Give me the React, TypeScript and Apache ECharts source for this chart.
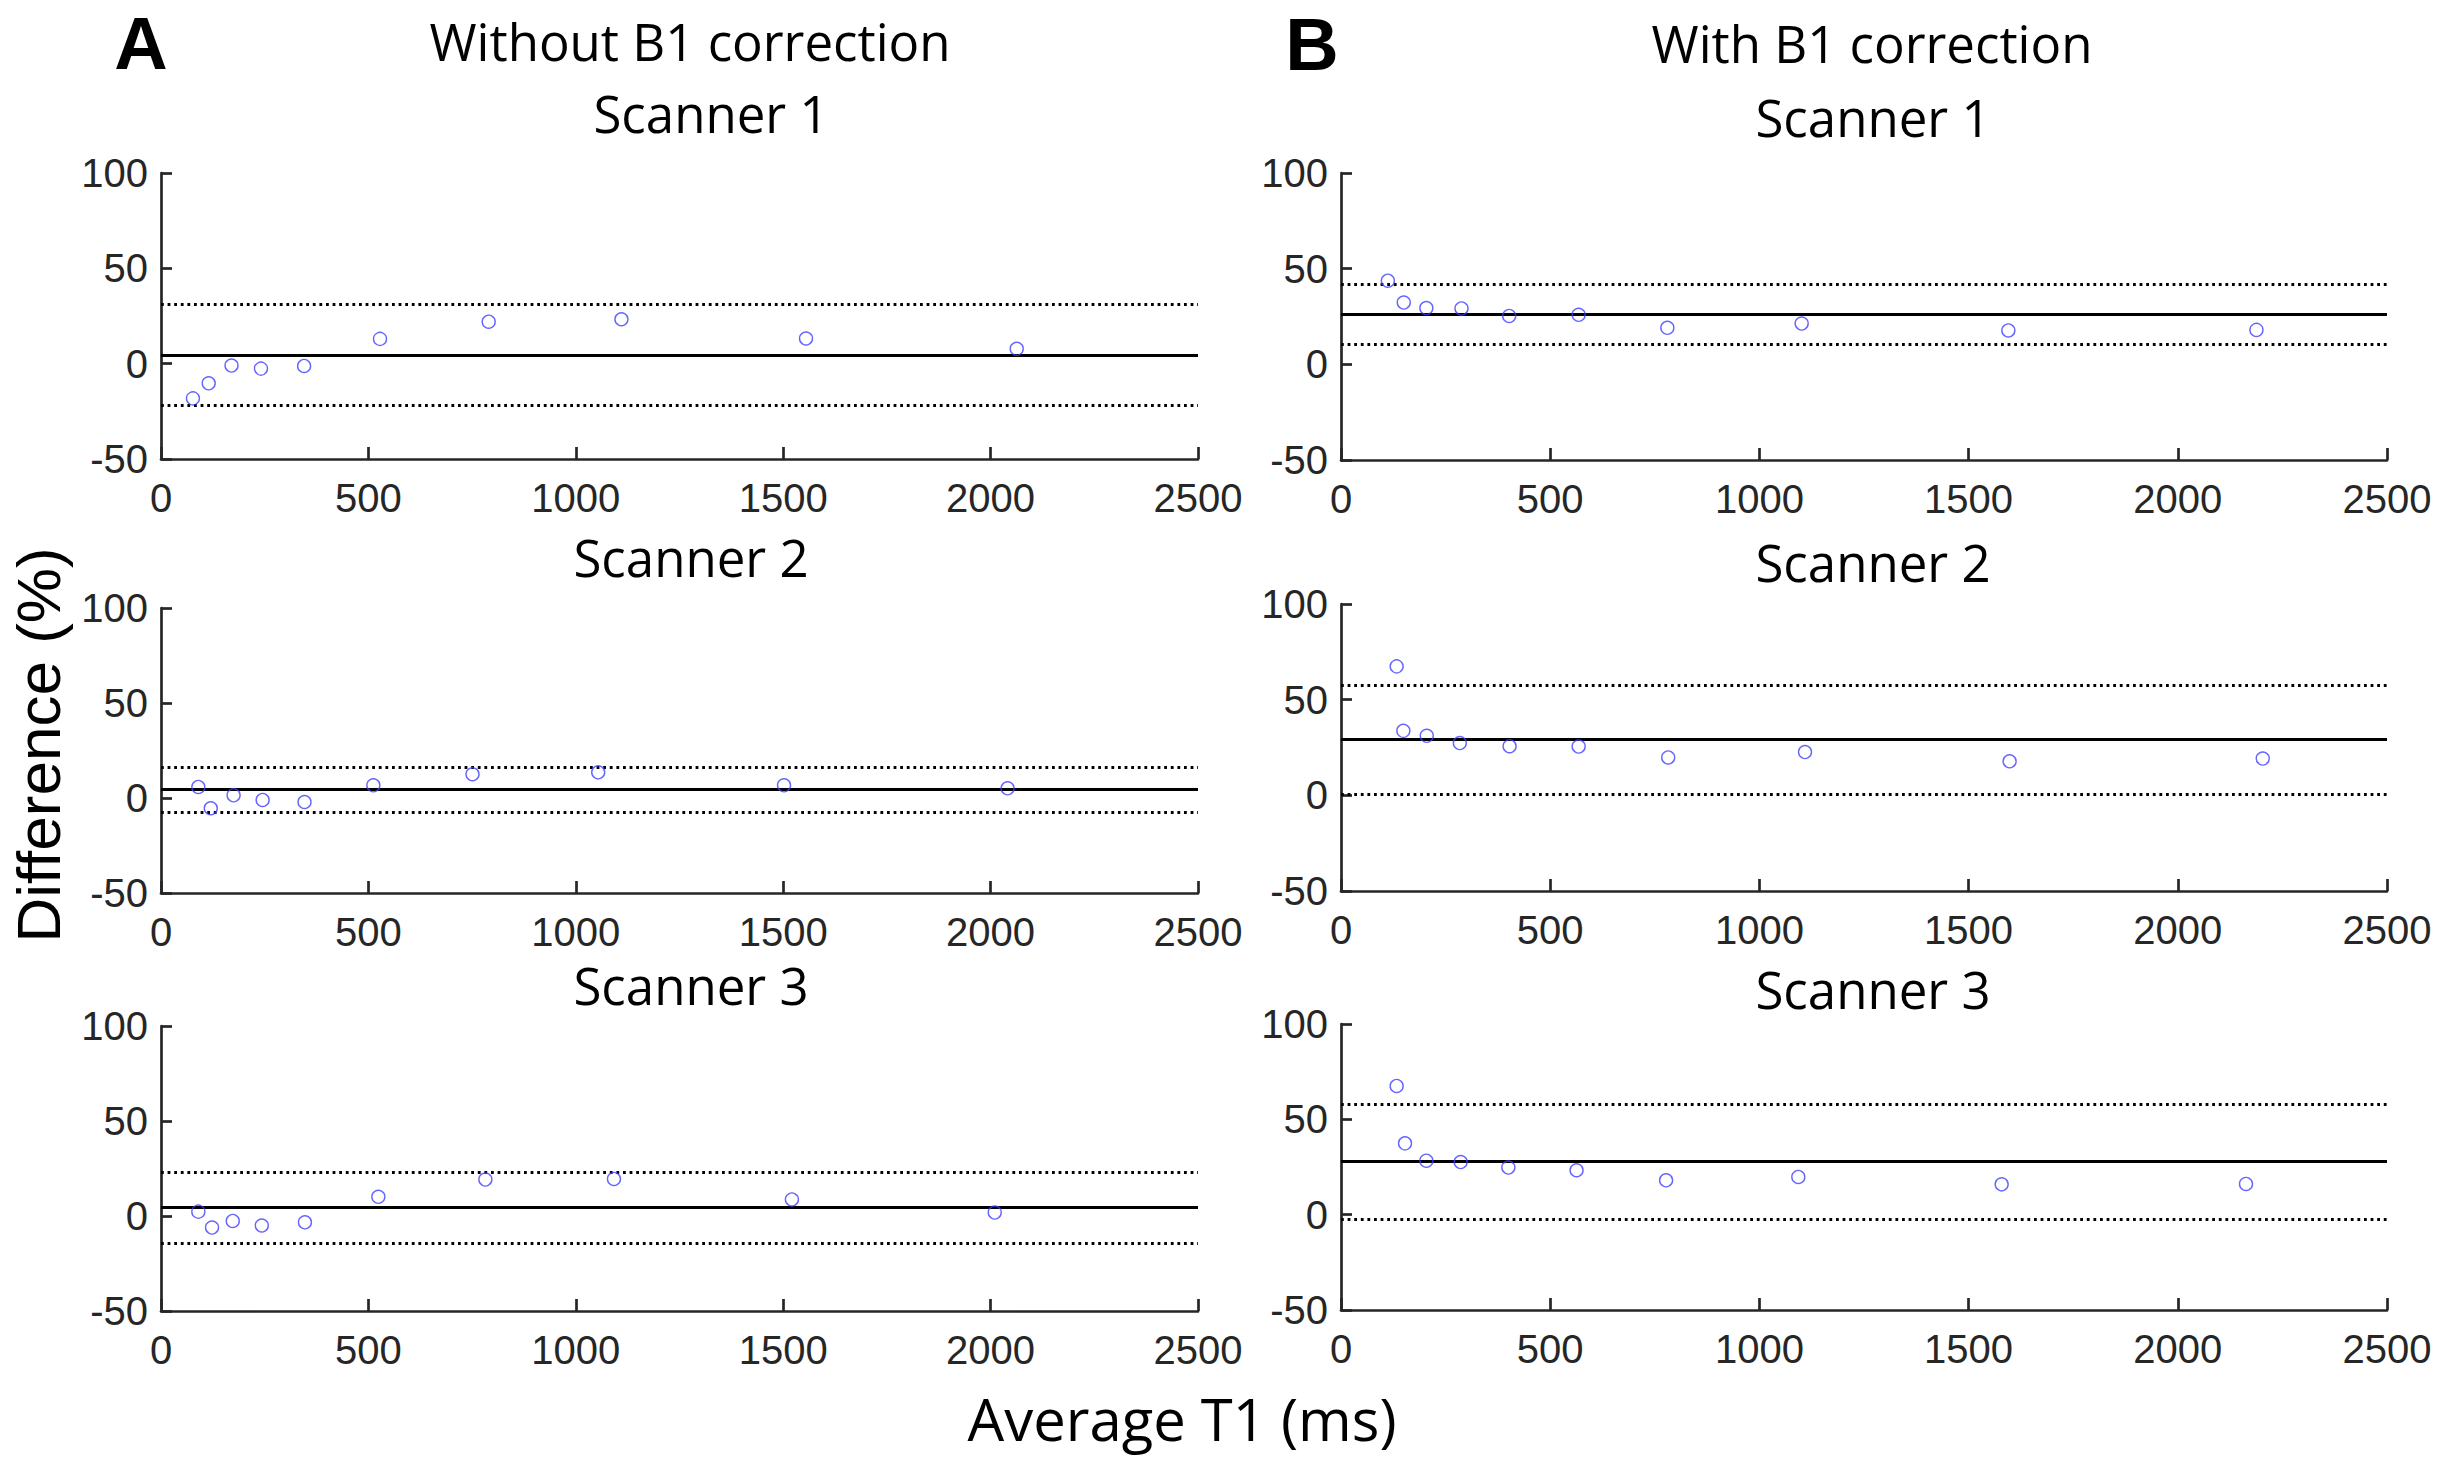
import React, { useEffect, useRef } from "react";
import * as echarts from "echarts";

// ---- Data (Bland-Altman: average T1 vs percent difference) ----
const xTickMin = 0;
const xTickMax = 2500;
const xTickStep = 500;
const yTickMin = -50;
const yTickMax = 100;
const yTickStep = 50;

// Without B1 correction
const s1NoB1T1 = [77, 115, 170, 241, 345, 528, 790, 1110, 1555, 2063];
const s1NoB1Diff = [-18.2, -10.3, -1, -2.6, -1.2, 13, 22, 23.3, 13.2, 7.8];
const s1NoB1Lines = [4.6, 31.2, -22]; // mean, upper LoA, lower LoA

const s2NoB1T1 = [90, 120, 175, 245, 346, 512, 751, 1054, 1502, 2041];
const s2NoB1Diff = [5.8, -5.4, 1.4, -1, -2.1, 6.7, 12.5, 13.5, 6.7, 5.1];
const s2NoB1Lines = [4.4, 16.3, -7.7];

const s3NoB1T1 = [90, 123, 173, 243, 347, 524, 782, 1092, 1521, 2010];
const s3NoB1Diff = [2.3, -6.1, -2.6, -5, -3.3, 10.1, 19.2, 19.5, 8.7, 1.8];
const s3NoB1Lines = [4.4, 23.2, -14.2];

// With B1 correction
const s1B1T1 = [112, 150, 204, 288, 402, 568, 780, 1101, 1595, 2188];
const s1B1Diff = [43.7, 32.3, 29.4, 29.2, 25.3, 25.9, 19.1, 21.3, 17.7, 18];
const s1B1Lines = [26.2, 41.9, 10.5];

const s2B1T1 = [133, 149, 205, 284, 403, 568, 782, 1109, 1598, 2203];
const s2B1Diff = [67.4, 33.7, 31.1, 27.3, 25.7, 25.5, 19.8, 22.6, 17.8, 19.2];
const s2B1Lines = [29.2, 57.4, 0.8];

const s3B1T1 = [133, 153, 204, 286, 400, 563, 777, 1093, 1579, 2163];
const s3B1Diff = [67.5, 37.4, 28.3, 27.6, 24.7, 23.3, 18, 19.8, 15.9, 16.1];
const s3B1Lines = [28, 58, -2.3];

const columnTitles = ["Without B1 correction", "With B1 correction"];
const panelLetters = ["A", "B"];
const scannerTitles = ["Scanner 1", "Scanner 2", "Scanner 3"];
const xAxisTitle = "Average T1 (ms)";
const yAxisTitle = "Difference (%)";

// ---- Layout ----
const W = 2451;
const H = 1459;
const panels = [
  { t1: s1NoB1T1, d: s1NoB1Diff, lines: s1NoB1Lines, left: 161, width: 1037, top: 173, height: 286 },
  { t1: s2NoB1T1, d: s2NoB1Diff, lines: s2NoB1Lines, left: 161, width: 1037, top: 608, height: 285 },
  { t1: s3NoB1T1, d: s3NoB1Diff, lines: s3NoB1Lines, left: 161, width: 1037, top: 1026, height: 285 },
  { t1: s1B1T1, d: s1B1Diff, lines: s1B1Lines, left: 1341, width: 1046, top: 173, height: 287 },
  { t1: s2B1T1, d: s2B1Diff, lines: s2B1Lines, left: 1341, width: 1046, top: 604, height: 287 },
  { t1: s3B1T1, d: s3B1Diff, lines: s3B1Lines, left: 1341, width: 1046, top: 1024, height: 286 },
];
const scannerTitlePos = [
  [711, 112.5], [691, 556.5], [691, 984.5],
  [1873, 117], [1873, 562], [1873, 988.5],
];

const AXIS_COLOR = "#262626";
const TICK_FONT = "'Liberation Sans', Arial, sans-serif";
const TITLE_FONT = "'Open Sans', sans-serif";

export default function App() {
  const ref = useRef<HTMLDivElement>(null);

  useEffect(() => {
    if (!ref.current) return;
    const chart = echarts.init(ref.current, null, { renderer: "svg" });

    const grid = panels.map((p) => ({
      left: p.left,
      top: p.top,
      width: p.width,
      height: p.height,
      containLabel: false,
    }));

    const plain = (v: number) => String(v);

    const xAxis = panels.map((_, i) => ({
      type: "value",
      gridIndex: i,
      min: xTickMin,
      max: xTickMax,
      interval: xTickStep,
      axisLine: { show: true, onZero: false, lineStyle: { color: AXIS_COLOR, width: 2.7 } },
      axisTick: { show: true, inside: true, length: 12, lineStyle: { color: AXIS_COLOR, width: 2.7 } },
      axisLabel: { color: AXIS_COLOR, fontFamily: TICK_FONT, fontSize: 40, margin: 19, formatter: plain },
      splitLine: { show: false },
    }));

    const yAxis = panels.map((_, i) => ({
      type: "value",
      gridIndex: i,
      min: yTickMin,
      max: yTickMax,
      interval: yTickStep,
      axisLine: { show: true, onZero: false, lineStyle: { color: AXIS_COLOR, width: 2.7 } },
      axisTick: { show: true, inside: true, length: 11, lineStyle: { color: AXIS_COLOR, width: 2.7 } },
      axisLabel: { color: AXIS_COLOR, fontFamily: TICK_FONT, fontSize: 40, margin: 13, padding: [6, 0, 0, 0], formatter: plain },
      splitLine: { show: false },
    }));

    const series = panels.map((p, i) => ({
      type: "scatter",
      xAxisIndex: i,
      yAxisIndex: i,
      symbol: "circle",
      symbolSize: 13,
      itemStyle: { color: "rgba(0,0,0,0)", borderColor: "#3f3fff", borderWidth: 1.4 },
      data: p.t1.map((x, k) => [x, p.d[k]]),
      z: 3,
      markLine: {
        silent: true,
        symbol: ["none", "none"],
        label: { show: false },
        z: 2,
        data: [
          { yAxis: p.lines[0], lineStyle: { color: "#000", width: 3.2, type: "solid" } },
          { yAxis: p.lines[1], lineStyle: { color: "#000", width: 2.8, type: [2.8, 3.8] } },
          { yAxis: p.lines[2], lineStyle: { color: "#000", width: 2.8, type: [2.8, 3.8] } },
        ],
      },
    }));

    const graphic: any[] = [
      {
        type: "text", x: 141, y: 43,
        style: { text: panelLetters[0], font: `bold 74px ${TICK_FONT}`, fill: "#000", align: "center", verticalAlign: "middle" },
      },
      {
        type: "text", x: 1312, y: 44,
        style: { text: panelLetters[1], font: `bold 74px ${TICK_FONT}`, fill: "#000", align: "center", verticalAlign: "middle" },
      },
      {
        type: "text", x: 690, y: 41,
        style: { text: columnTitles[0], font: `51px ${TITLE_FONT}`, fill: "#000", align: "center", verticalAlign: "middle" },
      },
      {
        type: "text", x: 1872, y: 42.5,
        style: { text: columnTitles[1], font: `51px ${TITLE_FONT}`, fill: "#000", align: "center", verticalAlign: "middle" },
      },
      ...scannerTitlePos.map(([x, y], i) => ({
        type: "text", x, y,
        style: { text: scannerTitles[i % 3], font: `51px ${TITLE_FONT}`, fill: "#000", align: "center", verticalAlign: "middle" },
      })),
      {
        type: "text", x: 1182, y: 1418,
        style: { text: xAxisTitle, font: `58px ${TITLE_FONT}`, fill: "#000", align: "center", verticalAlign: "middle" },
      },
      {
        type: "text", x: 38, y: 745, rotation: Math.PI / 2,
        style: { text: yAxisTitle, font: `62px ${TICK_FONT}`, fill: "#000", align: "center", verticalAlign: "middle" },
      },
    ];

    chart.setOption({
      animation: false,
      backgroundColor: "#ffffff",
      grid,
      xAxis,
      yAxis,
      series,
      graphic,
    });

    return () => chart.dispose();
  }, []);

  return (
    <div
      ref={ref}
      style={{ position: "absolute", left: 0, top: 0, width: W, height: H }}
    />
  );
}
